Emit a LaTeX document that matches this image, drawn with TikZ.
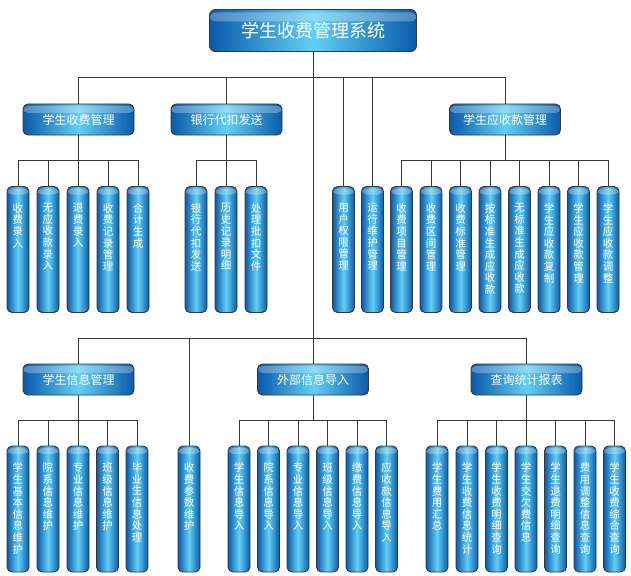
\documentclass[tikz,border=0pt]{standalone}
\usepackage{fontspec}
\newfontfamily\cjk{Noto Sans CJK SC}
\usetikzlibrary{backgrounds}
\definecolor{bdark}{HTML}{0A5AAA}
\definecolor{blight}{HTML}{62CFF5}
\definecolor{lnk}{HTML}{383838}

\ExplSyntaxOn
\NewDocumentCommand\vt{m}{
  \vbox_to_ht:nn {126pt} {
    \skip_set:Nn \baselineskip {11.6pt}
    \dim_set:Nn \lineskiplimit {-20pt}
    \vskip 17pt
    \tl_map_inline:nn {#1} { \hbox_to_wd:nn {14pt} { \hss ##1 \hss } }
    \vss
  }
}
\ExplSyntaxOff

\tikzset{
  glossy/.style={draw=lnk, line width=0.9pt, left color=bdark, right color=bdark, middle color=blight, text=white, inner sep=0pt},
  topbox/.style={glossy, rounded corners=6pt, minimum width=207pt, minimum height=42pt,
    font=\cjk\fontsize{18}{20}\selectfont,
    path picture={\fill[white,opacity=0.28] ([yshift=-3pt]path picture bounding box.north west) rectangle ([yshift=-12pt]path picture bounding box.north east);}},
  midbox/.style={glossy, rounded corners=5pt, minimum width=111pt, minimum height=31pt,
    font=\cjk\fontsize{12}{14}\selectfont,
    path picture={\fill[white,opacity=0.28] ([yshift=-2pt]path picture bounding box.north west) rectangle ([yshift=-9pt]path picture bounding box.north east);}},
  leaf/.style={glossy, rounded corners=5pt, minimum width=22pt, minimum height=126pt,
    font=\cjk\fontsize{10.5}{11.6}\selectfont,
    path picture={\fill[white,opacity=0.28] ([yshift=-2pt]path picture bounding box.north west) rectangle ([yshift=-8pt]path picture bounding box.north east);}},
  link/.style={draw=lnk, line width=1pt},
}

\begin{document}
\begin{tikzpicture}[x=1pt,y=-1pt]
\useasboundingbox (0,0) rectangle (631,575);

\coordinate (bus0) at (0,78);
\coordinate (bus1) at (0,160);
\coordinate (bus2) at (0,338);
\coordinate (bus3) at (0,420);

\node[topbox] (root) at (313,30.5) {学生收费管理系统};
\node[midbox] (m1) at (78.5,119.5) {学生收费管理};
\node[midbox] (m2) at (226.5,119.5) {银行代扣发送};
\node[midbox] (m3) at (505,119.5) {学生应收款管理};
\node[midbox] (m4) at (78.5,379.5) {学生信息管理};
\node[midbox] (m5) at (313,379.5) {外部信息导入};
\node[midbox] (m6) at (526.5,379.5) {查询统计报表};

% top leaves
\node[leaf] (a1) at (18,249.5) {\vt{收费录入}};
\node[leaf] (a2) at (48,249.5) {\vt{无应收款录入}};
\node[leaf] (a3) at (78,249.5) {\vt{退费录入}};
\node[leaf] (a4) at (108,249.5) {\vt{收费记录管理}};
\node[leaf] (a5) at (138,249.5) {\vt{合计生成}};
\node[leaf] (b1) at (196,249.5) {\vt{银行代扣发送}};
\node[leaf] (b2) at (226,249.5) {\vt{历史记录明细}};
\node[leaf] (b3) at (256,249.5) {\vt{处理批扣文件}};
\node[leaf] (u1) at (343.5,249.5) {\vt{用户权限管理}};
\node[leaf] (u2) at (372.5,249.5) {\vt{运行维护管理}};
\node[leaf] (c1) at (401.5,249.5) {\vt{收费项目管理}};
\node[leaf] (c2) at (431,249.5) {\vt{收费区间管理}};
\node[leaf] (c3) at (460.5,249.5) {\vt{收费标准管理}};
\node[leaf] (c4) at (490,249.5) {\vt{按标准生成应收款}};
\node[leaf] (c5) at (519.5,249.5) {\vt{无标准生成应收款}};
\node[leaf] (c6) at (549,249.5) {\vt{学生应收款复制}};
\node[leaf] (c7) at (578.5,249.5) {\vt{学生应收款管理}};
\node[leaf] (c8) at (608,249.5) {\vt{学生应收款调整}};

% bottom leaves
\node[leaf] (d1) at (18,509) {\vt{学生基本信息维护}};
\node[leaf] (d2) at (48,509) {\vt{院系信息维护}};
\node[leaf] (d3) at (78,509) {\vt{专业信息维护}};
\node[leaf] (d4) at (107.5,509) {\vt{班级信息维护}};
\node[leaf] (d5) at (137,509) {\vt{毕业生信息处理}};
\node[leaf] (p1) at (189,509) {\vt{收费参数维护}};
\node[leaf] (e1) at (239,509) {\vt{学生信息导入}};
\node[leaf] (e2) at (268.5,509) {\vt{院系信息导入}};
\node[leaf] (e3) at (298,509) {\vt{专业信息导入}};
\node[leaf] (e4) at (327.5,509) {\vt{班级信息导入}};
\node[leaf] (e5) at (357,509) {\vt{缴费信息导入}};
\node[leaf] (e6) at (386.5,509) {\vt{应收款信息导入}};
\node[leaf] (f1) at (437,509) {\vt{学生费用汇总}};
\node[leaf] (f2) at (467,509) {\vt{学生收费信息统计}};
\node[leaf] (f3) at (496.5,509) {\vt{学生收费明细查询}};
\node[leaf] (f4) at (526,509) {\vt{学生交欠费信息}};
\node[leaf] (f5) at (555.5,509) {\vt{学生退费明细查询}};
\node[leaf] (f6) at (585,509) {\vt{费用调整信息查询}};
\node[leaf] (f7) at (614.5,509) {\vt{学生收费综合查询}};

\begin{scope}[on background layer]
  \fill[white] (0,0) rectangle (631,575);
  \foreach \c in {m1,m2,u1,u2,m3}
    \draw[link] (root.south) -- (root.south |- bus0) -| (\c.north);
  \draw[link] (root.south) -- (m5.north);
  \foreach \c in {m4,p1,m6}
    \draw[link] (m5.north |- bus2) -| (\c.north);
  \foreach \c in {a1,a2,a3,a4,a5}
    \draw[link] (m1.south) -- (m1.south |- bus1) -| (\c.north);
  \foreach \c in {b1,b2,b3}
    \draw[link] (m2.south) -- (m2.south |- bus1) -| (\c.north);
  \foreach \c in {c1,c2,c3,c4,c5,c6,c7,c8}
    \draw[link] (m3.south) -- (m3.south |- bus1) -| (\c.north);
  \foreach \c in {d1,d2,d3,d4,d5}
    \draw[link] (m4.south) -- (m4.south |- bus3) -| (\c.north);
  \foreach \c in {e1,e2,e3,e4,e5,e6}
    \draw[link] (m5.south) -- (m5.south |- bus3) -| (\c.north);
  \foreach \c in {f1,f2,f3,f4,f5,f6,f7}
    \draw[link] (m6.south) -- (m6.south |- bus3) -| (\c.north);
\end{scope}
\end{tikzpicture}
\end{document}
